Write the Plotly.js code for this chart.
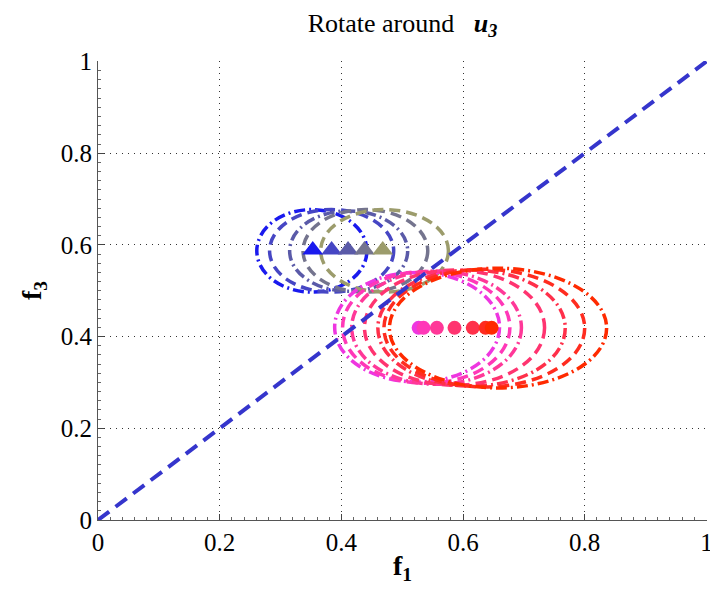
<!DOCTYPE html>
<html>
<head>
<meta charset="utf-8">
<script src="https://cdn.plot.ly/plotly-3.0.1.min.js"></script>
<style>html,body{margin:0;padding:0;background:#fff;}#chart{width:710px;height:591px;}</style>
</head>
<body>
<div id="chart"></div>
<script>
// Triangle markers (upper group)
const triX = [0.353, 0.384, 0.411, 0.438, 0.468];
const triY = [0.589, 0.589, 0.589, 0.589, 0.589];
const triColors = ['#1a1aee', '#4646c4', '#5a5aa8', '#74748e', '#9c9c6c'];

// Ellipse bounds, upper group
const upX0 = [0.261, 0.282, 0.315, 0.337, 0.366];
const upX1 = [0.442, 0.486, 0.509, 0.542, 0.576];
const upY0 = [0.497, 0.497, 0.499, 0.497, 0.497];
const upY1 = [0.677, 0.677, 0.674, 0.677, 0.677];
const upDash = ['dashdot', 'dash', 'dashdot', 'dash', 'dash'];

// Circle markers (lower group)
const cirX = [0.527, 0.535, 0.557, 0.586, 0.616, 0.637, 0.647];
const cirY = [0.419, 0.419, 0.419, 0.419, 0.419, 0.419, 0.419];
const cirColors = ['#ee36e0', '#ff38b8', '#ff3898', '#ff3470', '#ff304a', '#ff2c20', '#ff2a00'];

// Ellipse bounds, lower group
const loX0 = [0.389, 0.402, 0.417, 0.438, 0.460, 0.470, 0.479];
const loX1 = [0.660, 0.677, 0.696, 0.734, 0.768, 0.800, 0.836];
const loY0 = [0.301, 0.298, 0.296, 0.294, 0.292, 0.290, 0.288];
const loY1 = [0.540, 0.542, 0.543, 0.545, 0.545, 0.547, 0.549];
const loDash = ['dashdot', 'dash', 'dashdot', 'dash', 'dashdot', 'dash', 'dashdot'];

// Diagonal reference line
const diagX = [0, 1];
const diagY = [0, 1];

const tickVals = [0, 0.2, 0.4, 0.6, 0.8, 1];
const tickText = ['0', '0.2', '0.4', '0.6', '0.8', '1'];

const dashMap = { dash: '11px,6px', dashdot: '11px,4px,2px,4px' };

const shapes = [];
for (let i = 0; i < upX0.length; i++) {
  shapes.push({ type: 'circle', xref: 'x', yref: 'y', x0: upX0[i], x1: upX1[i], y0: upY0[i], y1: upY1[i],
    line: { color: triColors[i], width: 3.5, dash: dashMap[upDash[i]] }, layer: 'between' });
}
for (let i = 0; i < loX0.length; i++) {
  shapes.push({ type: 'circle', xref: 'x', yref: 'y', x0: loX0[i], x1: loX1[i], y0: loY0[i], y1: loY1[i],
    line: { color: cirColors[i], width: 3.5, dash: dashMap[loDash[i]] }, layer: 'between' });
}

const traces = [
  { x: diagX, y: diagY, mode: 'lines', type: 'scatter', line: { color: '#3535cc', width: 4, dash: '14px,8px' }, hoverinfo: 'skip' },
  { x: triX, y: triY, mode: 'markers', type: 'scatter', marker: { symbol: 'triangle-up', size: 18, color: triColors, line: { width: 0 } } },
  { x: cirX, y: cirY, mode: 'markers', type: 'scatter', marker: { symbol: 'circle', size: 14, color: cirColors, line: { width: 0 } } }
];

const fontFam = 'Liberation Serif';
const axisBase = {
  tickvals: tickVals, ticktext: tickText,
  showline: true, linecolor: '#555', linewidth: 1, zeroline: false,
  ticks: 'inside', ticklen: 6, tickcolor: '#444', tickwidth: 1,
  showgrid: true, gridcolor: '#333', gridwidth: 1, griddash: '1px,5px',
  tickfont: { family: fontFam, size: 25, color: '#000' },
  ticklabeloverflow: 'allow',
  minor: { dtick: 0.02, ticks: 'inside', ticklen: 3, tickcolor: '#666', showgrid: false },
  fixedrange: true
};

const layout = {
  width: 710, height: 591,
  margin: { l: 98, r: 3, t: 61, b: 71 },
  paper_bgcolor: '#fff', plot_bgcolor: '#fff',
  showlegend: false,
  font: { family: fontFam, color: '#000' },
  title: { text: 'Rotate around\u00a0\u00a0 <b><i>u<sub>3</sub></i></b>', font: { family: fontFam, size: 26, color: '#000' },
    x: 0.5, xref: 'paper', xanchor: 'center', y: 0.962, yref: 'container', yanchor: 'middle' },
  xaxis: Object.assign({}, axisBase, {
    range: [0, 1.001],
    title: { text: '<b>f<sub>1</sub></b>', font: { family: fontFam, size: 28, color: '#000' }, standoff: 0 }
  }),
  yaxis: Object.assign({}, axisBase, {
    range: [0, 1.001],
    title: { text: '<b>f<sub>3</sub></b>', font: { family: fontFam, size: 28, color: '#000' }, standoff: 10 }
  }),
  shapes: shapes
};

Plotly.newPlot('chart', traces, layout, { staticPlot: true, displayModeBar: false });
</script>
</body>
</html>
